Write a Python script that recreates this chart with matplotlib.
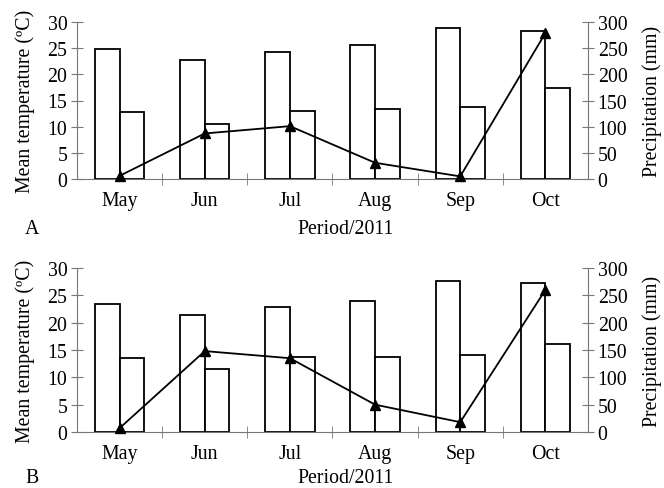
import matplotlib
matplotlib.use("Agg")
import matplotlib.pyplot as plt
import numpy as np

plt.rcParams['font.family'] = ['Liberation Serif', 'DejaVu Serif']

months = ["May", "Jun", "Jul", "Aug", "Sep", "Oct"]

# panel A
temp_max_a = [24.8, 22.7, 24.2, 25.7, 28.9, 28.2]
temp_min_a = [12.8, 10.5, 12.9, 13.4, 13.8, 17.3]
precip_a = [6, 87, 101, 31, 5, 279]

# panel B
temp_max_b = [23.4, 21.4, 22.8, 24.0, 27.7, 27.2]
temp_min_b = [13.5, 11.5, 13.7, 13.8, 14.0, 16.1]
precip_b = [7, 148, 135, 50, 18, 260]

fig = plt.figure(figsize=(6.64, 4.89), dpi=100)

fs = 14.3
spine_col = "#777777"
w = 0.29


def panel(rect, tmax, tmin, prec, letter, letter_y, xlab_y):
    ax = fig.add_axes(rect)
    x = np.arange(len(months))
    ax.bar(x - w / 2, tmax, w, facecolor="white", edgecolor="black", lw=1.3, zorder=2)
    ax.bar(x + w / 2, tmin, w, facecolor="white", edgecolor="black", lw=1.3, zorder=2)
    ax.set_xlim(-0.5, len(months) - 0.5)
    ax.set_ylim(0, 30)
    ax.set_yticks(range(0, 31, 5))
    ax.set_xticks(x)
    ax.set_xticklabels(months, fontsize=fs)
    ax.set_xticks(np.arange(0.5, len(months) - 1, 1), minor=True)
    ax.tick_params(axis="x", which="major", length=0, pad=9)
    ax.tick_params(axis="x", which="minor", direction="inout", length=8, color=spine_col)
    ax.tick_params(axis="y", direction="inout", length=8, color=spine_col, labelsize=fs, pad=3)
    ax.spines["top"].set_visible(False)
    ax.spines["right"].set_visible(False)
    for s in ["left", "bottom"]:
        ax.spines[s].set_color(spine_col)
    ax.set_ylabel("Mean temperature (ºC)", fontsize=fs, labelpad=9)

    ax2 = ax.twinx()
    ax2.plot(x, prec, color="black", lw=1.3, marker="^", markersize=7, zorder=3, clip_on=False)
    ax2.set_ylim(0, 300)
    ax2.set_yticks(range(0, 301, 50))
    ax2.tick_params(axis="y", direction="inout", length=8, color=spine_col, labelsize=fs, pad=3)
    ax2.spines["top"].set_visible(False)
    ax2.spines["left"].set_visible(False)
    ax2.spines["bottom"].set_visible(False)
    ax2.spines["right"].set_color(spine_col)
    ax2.set_ylabel("Precipitation (mm)", fontsize=fs, labelpad=11)

    fig.text(25 / 664, 1 - letter_y / 489, letter, fontsize=fs, ha="left", va="center")
    fig.text(346 / 664, 1 - xlab_y / 489, "Period/2011", fontsize=fs, ha="center", va="center")


panel([77 / 664, 1 - 180 / 489, 511 / 664, 157 / 489], temp_max_a, temp_min_a, precip_a, "A", 229, 229)
panel([77 / 664, 1 - 433 / 489, 511 / 664, 164 / 489], temp_max_b, temp_min_b, precip_b, "B", 479, 479)

fig.savefig("out.png", dpi=100)
